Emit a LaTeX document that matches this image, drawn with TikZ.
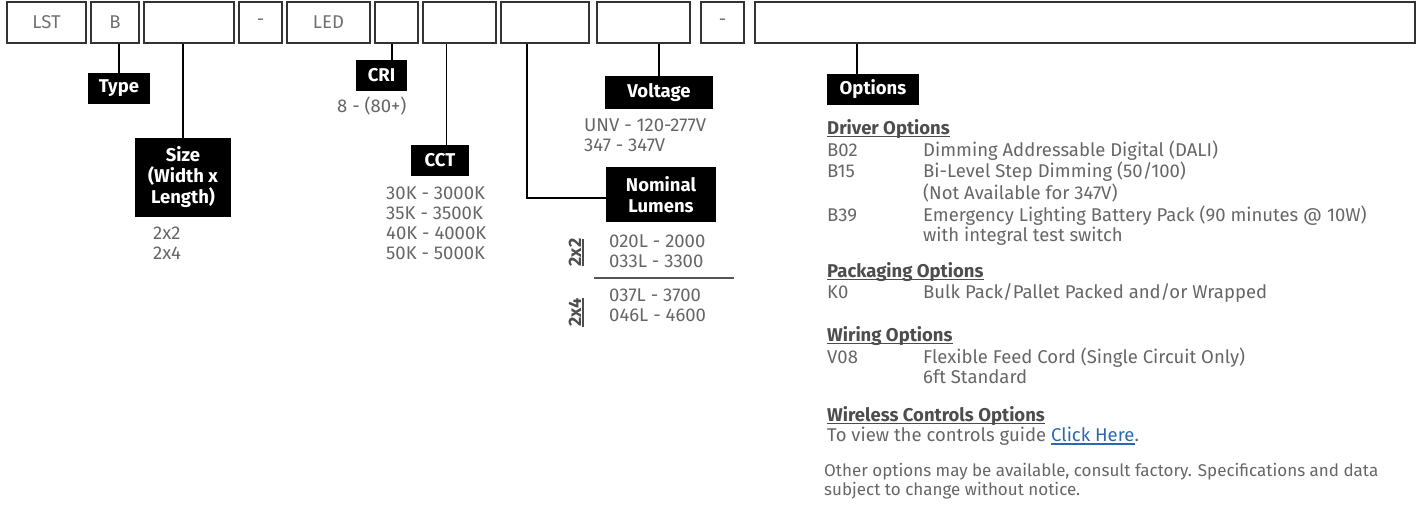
\documentclass[tikz,border=0pt]{standalone}
\usepackage{fontspec}
\setmainfont{Fira Sans}

\definecolor{txtgray}{HTML}{666666}
\definecolor{headgray}{HTML}{4D4D4D}
\definecolor{boxgray}{HTML}{707070}
\definecolor{rulegray}{HTML}{555555}
\definecolor{linkblue}{HTML}{2B68AE}

% underline sitting close to the baseline
\newcommand\ulin[1]{\setbox0\hbox{#1}\rlap{\rule[-2.6pt]{\wd0}{1.2pt}}\box0}
\newcommand\ulhead[1]{{\color{headgray}\bfseries\ulin{#1}}}
\newcommand\rows[1]{\begin{tabular}[t]{@{}l@{}}#1\end{tabular}}

\tikzset{
  codebox/.style={draw=black!80, line width=1.3pt, minimum height=41pt, inner sep=0pt,
    text=boxgray, font=\fontsize{18.5}{20}\selectfont},
  tag/.style={fill=black, text=white, inner sep=0pt, align=center,
    font=\bfseries\fontsize{18.5}{21}\selectfont},
  val/.style={anchor=base west, inner sep=0pt, text=txtgray, font=\fontsize{18.5}{20}\selectfont},
  sidetag/.style={anchor=base, rotate=90, inner sep=0pt, text=headgray,
    font=\bfseries\fontsize{18}{20}\selectfont},
  lead/.style={line width=1.2pt}
}

\begin{document}
\begin{tikzpicture}[x=1pt, y=-1pt]
    \useasboundingbox (0,0) rectangle (1426,504);

    % catalogue number boxes along the top
    \node[codebox, minimum width=79pt] (lstbox) at (46.5,22.5) {LST};
    \node[codebox, minimum width=48pt] (bbox) at (115,22.5) {B};
    \node[codebox, minimum width=90pt] (sizebox) at (189,22.5) {};
    \node[codebox, minimum width=43pt] (dashbox) at (260.5,22.5) {-};
    \node[codebox, minimum width=83pt] (ledbox) at (328.5,22.5) {LED};
    \node[codebox, minimum width=43pt] (cribox) at (396.5,22.5) {};
    \node[codebox, minimum width=73pt] (cctbox) at (459.5,22.5) {};
    \node[codebox, minimum width=88pt] (lumbox) at (545,22.5) {};
    \node[codebox, minimum width=93pt] (voltbox) at (643.5,22.5) {};
    \node[codebox, minimum width=43pt] (dashboxb) at (722.5,22.5) {-};
    \node[codebox, minimum width=660pt] (optbox) at (1085,22.5) {};

    % black tags naming each field
    \node[tag, minimum width=62pt, minimum height=31pt] (typetag) at (119,88.5) {Type};
    \node[tag, minimum width=96pt, minimum height=79pt] (sizetag) at (183,177.5) {Size\\(Width x\\Length)};
    \node[tag, minimum width=51pt, minimum height=31pt] (critag) at (381.5,75.5) {CRI};
    \node[tag, minimum width=58pt, minimum height=31pt] (ccttag) at (440,160.5) {CCT};
    \node[tag, minimum width=108pt, minimum height=33pt] (volttag) at (659,92.5) {Voltage};
    \node[tag, minimum width=110pt, minimum height=55pt] (lumtag) at (661,194.5) {Nominal\\Lumens};
    \node[tag, minimum width=92pt, minimum height=31pt] (opttag) at (873,89.5) {Options};

    % leads from the boxes down to the tags
    \draw[lead] (typetag.north) -- (typetag.north |- bbox.south);
    \draw[lead] (sizetag.north) -- (sizetag.north |- sizebox.south);
    \draw[lead] ([xshift=10.5pt]critag.north) -- ([xshift=10.5pt]critag.north |- cribox.south);
    \draw[lead] ([xshift=6.5pt]ccttag.north) -- ([xshift=6.5pt]ccttag.north |- cctbox.south);
    \draw[lead] ([xshift=-18pt]lumbox.south) |- ([yshift=-3.5pt]lumtag.west);
    \draw[lead] (volttag.north) -- (volttag.north |- voltbox.south);
    \draw[lead] ([xshift=-16pt]opttag.north) -- ([xshift=-16pt]opttag.north |- optbox.south);

    % choices under each tag
    \node[val] (crival) at (337,112) {8 - (80+)};
    \node[val] (sizeval) at (153,239) {\rows{2x2\\2x4}};
    \node[val] (cctval) at (386,199) {\rows{30K - 3000K\\35K - 3500K\\40K - 4000K\\50K - 5000K}};
    \node[val] (voltval) at (584,131) {\rows{UNV - 120-277V\\347 - 347V}};
    \node[val] (lumvala) at (609,247) {\rows{020L - 2000\\033L - 3300}};
    \node[val] (lumvalb) at (609,301) {\rows{037L - 3700\\046L - 4600}};
    \node[sidetag] (lumsizea) at (581,252.5) {\ulin{2x2}};
    \node[sidetag] (lumsizeb) at (581,312.5) {\ulin{2x4}};
    \draw[rulegray, line width=1.6pt] (594,278) -- (734,278);

    % option lists
    \node[val] (driveropt) at (827,134.5) {\begin{tabular}[t]{@{}p{96pt}@{}l@{}}
        \multicolumn{2}{@{}l@{}}{\ulhead{Driver Options}}\\
        B02 & Dimming Addressable Digital (DALI)\\
        B15 & Bi-Level Step Dimming (50/100)\\
            & (Not Available for 347V)\\
        B39 & Emergency Lighting Battery Pack (90 minutes @ 10W)\\
            & with integral test switch
    \end{tabular}};
    \node[val] (packopt) at (827,277.5) {\begin{tabular}[t]{@{}p{96pt}@{}l@{}}
        \multicolumn{2}{@{}l@{}}{\ulhead{Packaging Options}}\\
        K0 & Bulk Pack/Pallet Packed and/or Wrapped
    \end{tabular}};
    \node[val] (wireopt) at (827,341.5) {\begin{tabular}[t]{@{}p{96pt}@{}l@{}}
        \multicolumn{2}{@{}l@{}}{\ulhead{Wiring Options}}\\
        V08 & Flexible Feed Cord (Single Circuit Only)\\
            & 6ft Standard
    \end{tabular}};
    \node[val] (wirelessopt) at (827,421.5) {\rows{\ulhead{Wireless Controls Options}\\
        To view the controls guide \textcolor{linkblue}{\ulin{Click Here}}.}};
    \node[val, font=\fontsize{17}{18.5}\selectfont] (footnote) at (824,476.5) {\rows{Other options may be available, consult factory. Specifications and data\\
        subject to change without notice.}};
\end{tikzpicture}
\end{document}
